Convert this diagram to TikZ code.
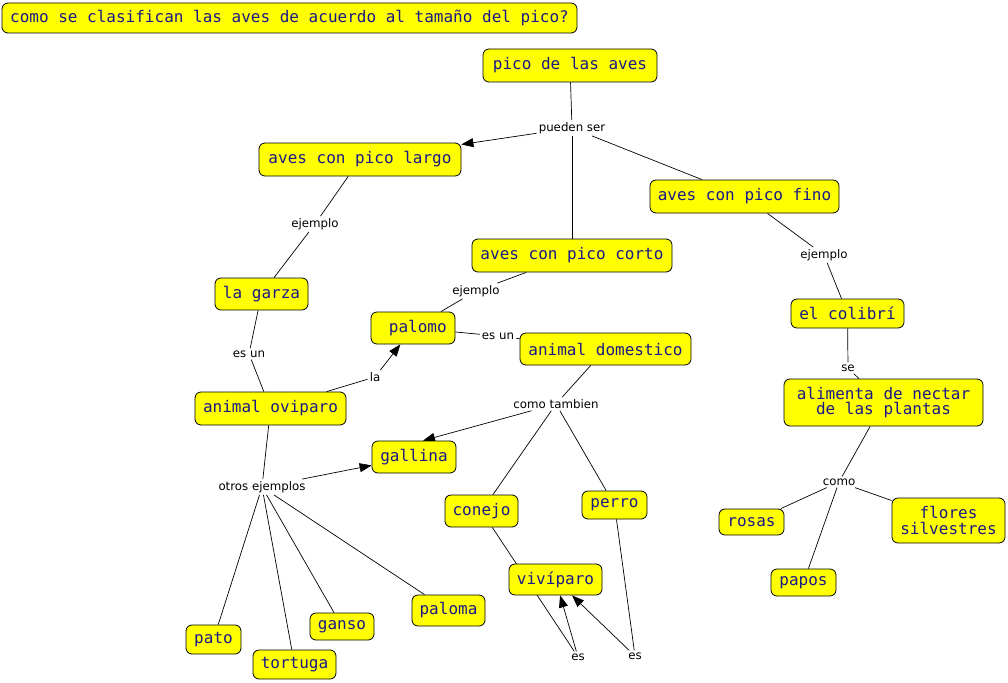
\documentclass[tikz,border=0pt]{standalone}
\usepackage{fontspec}
\newfontfamily\cmono{DejaVu Sans Mono}
\newfontfamily\csans{DejaVu Sans}
\usetikzlibrary{arrows.meta,backgrounds,calc}
\definecolor{boxyellow}{RGB}{255,255,0}
\definecolor{boxtext}{RGB}{25,25,135}
\tikzset{
  concept/.style={draw=black, line width=0.8pt, fill=boxyellow, rounded corners=6pt,
    text=boxtext, font=\cmono\fontsize{16}{15.5}\selectfont, inner xsep=6pt, inner ysep=2pt,
    align=center},
  lbl/.style={font=\csans\fontsize{11.8}{13}\selectfont, text=black, inner sep=2pt},
  link/.style={draw=black, line width=0.7pt},
  arr/.style={link, -{Triangle[length=12pt,width=9pt]}},
}
\begin{document}
\begin{tikzpicture}[x=1pt,y=-1pt]
\useasboundingbox (0,0) rectangle (1008,682);
% concepts
\node[concept, minimum width=575, minimum height=30] (title) at (289.5,18) {como se clasifican las aves de acuerdo al tamaño del pico?};
\node[concept, minimum width=174, minimum height=33] (pico) at (570,65.5) {pico de las aves};
\node[concept, minimum width=202, minimum height=33] (largo) at (360,159.5) {aves con pico largo};
\node[concept, minimum width=189, minimum height=33] (fino) at (744.5,196.5) {aves con pico fino};
\node[concept, minimum width=200, minimum height=33] (corto) at (572,255.5) {aves con pico corto};
\node[concept, minimum width=93, minimum height=32] (garza) at (261.5,294) {la garza};
\node[concept, minimum width=84, minimum height=32] (palomo) at (413,328) {\hspace*{0.6em}palomo};
\node[concept, minimum width=171, minimum height=32] (domestico) at (605.5,349) {animal domestico};
\node[concept, minimum width=113, minimum height=29] (colibri) at (847.5,313.5) {el colibrí};
\node[concept, minimum width=199, minimum height=47] (alimenta) at (883.5,402.5) {alimenta de nectar\\de las plantas};
\node[concept, minimum width=151, minimum height=33] (oviparo) at (270.5,408.5) {animal oviparo};
\node[concept, minimum width=84, minimum height=32] (gallina) at (414,457) {gallina};
\node[concept, minimum width=73, minimum height=32] (conejo) at (481.5,511) {conejo};
\node[concept, minimum width=65, minimum height=28] (perro) at (614.5,505) {perro};
\node[concept, minimum width=93, minimum height=31] (viviparo) at (555.5,579.5) {vivíparo};
\node[concept, minimum width=65, minimum height=26] (rosas) at (751.5,522) {rosas};
\node[concept, minimum width=113, minimum height=45] (flores) at (948.5,520.5) {flores\\silvestres};
\node[concept, minimum width=65, minimum height=27] (papos) at (803.5,582.5) {papos};
\node[concept, minimum width=55, minimum height=29] (pato) at (213.5,639.5) {pato};
\node[concept, minimum width=83, minimum height=29] (tortuga) at (294.5,664.5) {tortuga};
\node[concept, minimum width=64, minimum height=27] (ganso) at (342,626.5) {ganso};
\node[concept, minimum width=73, minimum height=31] (paloma) at (448.5,610.5) {paloma};
% link labels
\node[lbl] (pueden) at (572,128) {pueden ser};
\node[lbl] (ej1) at (315,224) {ejemplo};
\node[lbl] (ej2) at (476,291) {ejemplo};
\node[lbl] (ej3) at (824,255) {ejemplo};
\node[lbl] (esun1) at (249,354) {es un};
\node[lbl] (la) at (375,377) {la};
\node[lbl] (esun2) at (498,336) {es un};
\node[lbl] (se) at (848,368) {se};
\node[lbl] (ct) at (556,404) {como tambien};
\node[lbl] (otros) at (262,487) {otros ejemplos};
\node[lbl] (como) at (839,482) {como};
\node[lbl] (es1) at (578,657) {es};
\node[lbl] (es2) at (635,656) {es};
% connectors
\begin{pgfonlayer}{background}
\draw[link] (pico) -- (pueden);
\draw[arr] (pueden) -- (largo);
\draw[link] (pueden) -- (corto);
\draw[link] (pueden) -- (fino);
\draw[link] (largo) -- (ej1);
\draw[link] (ej1) -- (garza);
\draw[link] (corto) -- (ej2);
\draw[link] (ej2) -- (palomo);
\draw[link] (fino) -- (ej3);
\draw[link] (ej3) -- (colibri);
\draw[link] (garza) -- (esun1);
\draw[link] (esun1) -- (oviparo);
\draw[link] (oviparo) -- (la);
\draw[arr] (la) -- (palomo);
\draw[link] (palomo) -- (esun2);
\draw[link] (esun2) -- (domestico);
\draw[link] (domestico) -- (ct);
\draw[arr] (ct) -- ($(gallina.north)+(9,0)$);
\draw[link] (ct) -- (conejo);
\draw[link] (ct) -- (perro);
\draw[link] (oviparo) -- (otros);
\draw[arr] (otros) -- (gallina);
\draw[link] (otros) -- (pato);
\draw[link] (otros) -- (tortuga);
\draw[link] (otros) -- (ganso);
\draw[link] (otros) -- (paloma);
\draw[link] (colibri) -- (se);
\draw[link] (se) -- (alimenta);
\draw[link] (alimenta) -- (como);
\draw[link] (como) -- (rosas);
\draw[link] (como) -- (papos);
\draw[link] (como) -- (flores);
\draw[link] (conejo) -- (es1);
\draw[arr] (es1) -- (viviparo);
\draw[link] (perro) -- (es2);
\draw[arr] (es2) -- (viviparo);
\end{pgfonlayer}
\end{tikzpicture}
\end{document}
